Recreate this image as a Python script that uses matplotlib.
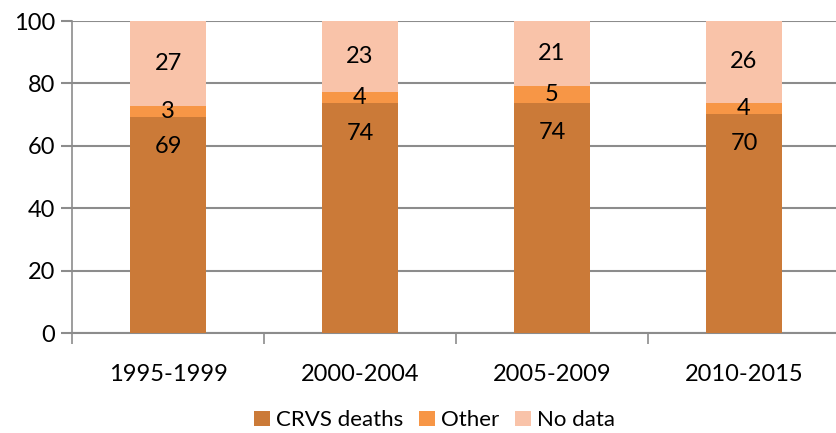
import matplotlib

matplotlib.use("Agg")
import matplotlib.pyplot as plt  # noqa: E402
import numpy as np  # noqa: E402

periods = ["1995-1999", "2000-2004", "2005-2009", "2010-2015"]
crvs = [69.2, 73.6, 73.8, 70.1]
other = [3.4, 3.8, 5.4, 3.7]
no_data = [27.4, 22.6, 20.8, 26.2]
crvs_lbl = ["69", "74", "74", "70"]
other_lbl = ["3", "4", "5", "4"]
nodata_lbl = ["27", "23", "21", "26"]

C_CRVS = "#CB7A38"
C_OTHER = "#F79646"
C_NODATA = "#F9C3A9"
GRID = "#8C8C8C"

plt.rcParams["font.family"] = ["Lato", "DejaVu Sans"]

fig = plt.figure(figsize=(8.36, 4.33), dpi=100)
ax = fig.add_axes([72 / 836, 1 - 333 / 433, 768 / 836, 312 / 433])

x = np.arange(len(periods))
w = 0.395
crvs_a = np.array(crvs)
other_a = np.array(other)
nd_a = np.array(no_data)

ax.bar(x, crvs_a, w, color=C_CRVS, label="CRVS deaths", zorder=3)
ax.bar(x, other_a, w, bottom=crvs_a, color=C_OTHER, label="Other", zorder=3)
ax.bar(x, nd_a, w, bottom=crvs_a + other_a, color=C_NODATA, label="No data", zorder=3)

# labels: CRVS placed a little below its top edge, others centred
FS = 17
for i in range(len(periods)):
    ax.text(x[i], crvs_a[i] - 9.5, crvs_lbl[i], ha="center", va="center", fontsize=FS, zorder=4)
    ax.text(x[i], crvs_a[i] + other_a[i] / 2, other_lbl[i], ha="center", va="center",
            fontsize=FS, zorder=4)
    ax.text(x[i], crvs_a[i] + other_a[i] + nd_a[i] / 2, nodata_lbl[i], ha="center",
            va="center", fontsize=FS, zorder=4)

ax.set_xlim(-0.5, len(periods) - 0.5)
ax.set_ylim(0, 100)
ax.set_yticks(range(0, 101, 20))
ax.yaxis.grid(True, color=GRID, lw=1.5, zorder=0)
ax.set_axisbelow(True)

ax.set_xticks(x)
ax.set_xticklabels(periods, fontsize=FS)
ax.set_xticks(np.arange(-0.5, len(periods), 1), minor=True)
ax.tick_params(axis="x", which="major", length=0, pad=22)
ax.tick_params(axis="x", which="minor", length=8, color=GRID, width=1.2)
ax.tick_params(axis="y", labelsize=FS, length=8, color=GRID, width=1.5, pad=4)

for s in ("top", "right"):
    ax.spines[s].set_visible(False)
ax.spines["left"].set_color(GRID)
ax.spines["left"].set_linewidth(1.2)
ax.spines["bottom"].set_color(GRID)
ax.spines["bottom"].set_linewidth(1.5)

fig.legend(loc="lower center", bbox_to_anchor=(0.52, -0.04), ncol=3, frameon=False,
           fontsize=16, handlelength=0.7, handleheight=0.7, handletextpad=0.3,
           columnspacing=0.7)

fig.savefig("out.png", dpi=100)
